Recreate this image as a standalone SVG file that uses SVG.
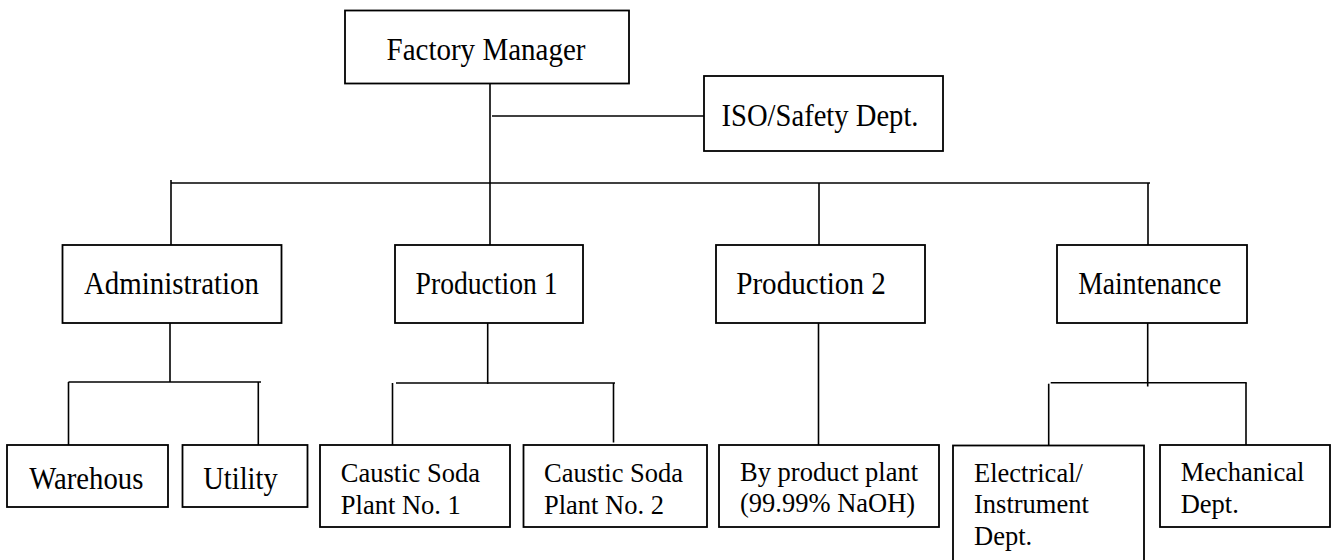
<svg xmlns="http://www.w3.org/2000/svg" width="1334" height="560" viewBox="0 0 1334 560">
<style>
  .box { fill: #ffffff; stroke: #000000; stroke-width: 1.8; }
  .conn { fill: none; stroke: #000000; stroke-width: 1.6; }
  text { font-family: "Liberation Serif", "Times New Roman", serif; fill: #000000; }
  .big { font-size: 30.5px; text-anchor: middle; }
  .small { font-size: 26.5px; }
</style>
<rect width="1334" height="560" fill="#ffffff"/>
<g id="connectors">
  <path class="conn" d="M490 84 V246"/>
  <path class="conn" d="M492 116 H704"/>
  <path class="conn" d="M171 183 H1150"/>
  <path class="conn" d="M171 180 V245"/>
  <path class="conn" d="M819 183 V246"/>
  <path class="conn" d="M1148 183 V249"/>
  <path class="conn" d="M170 323 V382"/>
  <path class="conn" d="M68.5 382 H261"/>
  <path class="conn" d="M68.5 382 V445"/>
  <path class="conn" d="M258.3 382 V445"/>
  <path class="conn" d="M487.7 323 V384"/>
  <path class="conn" d="M396 383 H615"/>
  <path class="conn" d="M392.5 383 V445"/>
  <path class="conn" d="M613.5 383 V442.5"/>
  <path class="conn" d="M818.5 323 V446.5"/>
  <path class="conn" d="M1147.7 323 V386.5"/>
  <path class="conn" d="M1050.7 382.7 H1246.7"/>
  <path class="conn" d="M1048.7 383.7 V445.5"/>
  <path class="conn" d="M1246 382.7 V445"/>
</g>
<g id="factory-manager">
  <rect class="box" x="345" y="10.5" width="284" height="73"/>
  <text class="big" x="486" y="60" textLength="199" lengthAdjust="spacingAndGlyphs">Factory Manager</text>
</g>
<g id="iso-safety">
  <rect class="box" x="704" y="76" width="239" height="75"/>
  <text class="big" x="820" y="126" textLength="197" lengthAdjust="spacingAndGlyphs">ISO/Safety Dept.</text>
</g>
<g id="administration">
  <rect class="box" x="62.5" y="245" width="219" height="78"/>
  <text class="big" x="171.5" y="294" textLength="175" lengthAdjust="spacingAndGlyphs">Administration</text>
</g>
<g id="production-1">
  <rect class="box" x="395" y="245" width="188" height="78"/>
  <text class="big" x="486.6" y="294" textLength="142" lengthAdjust="spacingAndGlyphs">Production 1</text>
</g>
<g id="production-2">
  <rect class="box" x="716" y="245" width="209" height="78"/>
  <text class="big" x="811" y="294" textLength="149.5" lengthAdjust="spacingAndGlyphs">Production 2</text>
</g>
<g id="maintenance">
  <rect class="box" x="1057" y="245" width="190" height="78"/>
  <text class="big" x="1149.7" y="294" textLength="143" lengthAdjust="spacingAndGlyphs">Maintenance</text>
</g>
<g id="warehouse">
  <rect class="box" x="7" y="445" width="161" height="62"/>
  <text class="big" x="86.3" y="489.3" textLength="114" lengthAdjust="spacingAndGlyphs">Warehous</text>
</g>
<g id="utility">
  <rect class="box" x="182.5" y="445" width="125" height="62"/>
  <text class="big" x="240.5" y="489.3" textLength="74.4" lengthAdjust="spacingAndGlyphs">Utility</text>
</g>
<g id="caustic-soda-1">
  <rect class="box" x="320" y="445" width="190" height="82"/>
  <text class="small" x="340.8" y="481.7">Caustic Soda</text>
  <text class="small" x="340.8" y="513.8">Plant No. 1</text>
</g>
<g id="caustic-soda-2">
  <rect class="box" x="523.5" y="445" width="183.5" height="82"/>
  <text class="small" x="544" y="481.7">Caustic Soda</text>
  <text class="small" x="544" y="513.8">Plant No. 2</text>
</g>
<g id="by-product">
  <rect class="box" x="719" y="445" width="220" height="82"/>
  <text class="small" x="740" y="480.5">By product plant</text>
  <text class="small" x="740" y="512">(99.99% NaOH)</text>
</g>
<g id="electrical">
  <rect class="box" x="953" y="445.5" width="191" height="130"/>
  <text class="small" x="974" y="481.7">Electrical/</text>
  <text class="small" x="974" y="513.3">Instrument</text>
  <text class="small" x="974" y="545">Dept.</text>
</g>
<g id="mechanical">
  <rect class="box" x="1160" y="445" width="170" height="82"/>
  <text class="small" x="1180.7" y="481">Mechanical</text>
  <text class="small" x="1180.7" y="512.7">Dept.</text>
</g>
</svg>
